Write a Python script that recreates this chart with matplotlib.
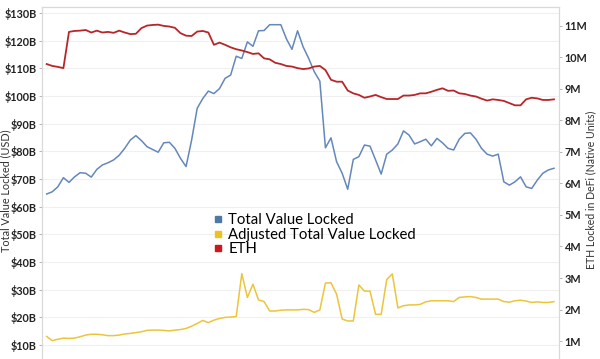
import numpy as np
import matplotlib
matplotlib.use("Agg")
import matplotlib.pyplot as plt
from matplotlib.lines import Line2D
from matplotlib.ticker import FuncFormatter, FixedLocator

# Weekly readings (oldest to newest)
tvl = [64.6, 65.4, 67.2, 70.5, 68.8, 70.8, 72.3, 72.1, 70.7, 73.5,
       75.1, 75.9, 76.9, 78.6, 81.1, 84.1, 85.7, 83.9, 81.7, 80.7,
       79.7, 83.1, 83.3, 81.1, 77.5, 74.5, 84.1, 95.6, 99.1, 101.8,
       100.9, 102.7, 106.4, 107.6, 114.4, 113.6, 119.6, 118.0, 123.6, 123.7,
       125.8, 125.8, 125.8, 120.7, 116.9, 123.6, 117.8, 113.6, 108.8, 105.4,
       81.3, 84.9, 76.3, 72.1, 66.3, 77.1, 78.1, 82.3, 81.9, 76.9,
       71.8, 79.0, 80.5, 82.7, 87.4, 85.9, 82.7, 83.5, 84.4, 82.0,
       84.7, 83.1, 81.1, 80.5, 84.4, 86.5, 86.7, 84.4, 81.1, 79.0,
       78.3, 79.0, 69.0, 67.8, 69.0, 70.8, 67.2, 66.6, 69.6, 72.1,
       73.3, 73.9]

adj_tvl = [13.1, 11.6, 12.1, 12.5, 12.4, 12.5, 13.0, 13.6, 13.9, 13.9,
           13.7, 13.4, 13.4, 13.6, 14.0, 14.2, 14.5, 14.8, 15.3, 15.4,
           15.4, 15.3, 15.1, 15.4, 15.6, 16.0, 16.8, 17.8, 18.9, 18.1,
           19.0, 19.6, 20.0, 20.1, 20.3, 35.8, 27.2, 32.0, 26.3, 25.7,
           22.3, 22.3, 22.6, 22.7, 22.7, 22.7, 22.9, 22.8, 21.8, 22.7,
           32.4, 32.5, 28.4, 19.4, 18.7, 18.7, 31.7, 29.5, 29.5, 21.1,
           21.1, 33.7, 35.7, 23.4, 24.2, 24.5, 24.5, 24.7, 25.6, 26.0,
           26.0, 26.0, 26.0, 25.7, 27.2, 27.4, 27.5, 27.2, 26.6, 26.6,
           26.6, 26.6, 25.7, 25.5, 26.0, 26.2, 25.9, 25.4, 25.6, 25.4,
           25.4, 25.7]

eth = [9.79, 9.73, 9.70, 9.66, 10.81, 10.84, 10.85, 10.87, 10.79, 10.85,
       10.79, 10.81, 10.78, 10.85, 10.79, 10.74, 10.75, 10.93, 11.01, 11.03,
       11.04, 11.00, 10.98, 10.94, 10.77, 10.69, 10.68, 10.82, 10.84, 10.79,
       10.40, 10.47, 10.40, 10.32, 10.26, 10.22, 10.17, 10.11, 10.13, 9.97,
       9.94, 9.83, 9.79, 9.73, 9.71, 9.66, 9.63, 9.65, 9.71, 9.73,
       9.60, 9.29, 9.23, 9.23, 8.95, 8.86, 8.81, 8.72, 8.76, 8.81,
       8.74, 8.68, 8.68, 8.68, 8.79, 8.79, 8.81, 8.86, 8.86, 8.91,
       8.97, 9.02, 8.94, 8.95, 8.86, 8.84, 8.79, 8.76, 8.69, 8.63,
       8.67, 8.65, 8.62, 8.55, 8.48, 8.48, 8.67, 8.72, 8.70, 8.65,
       8.65, 8.67]

left_ticks = [10, 20, 30, 40, 50, 60, 70, 80, 90, 100, 110, 120, 130]
right_ticks = [1, 2, 3, 4, 5, 6, 7, 8, 9, 10, 11]
series_names = ["Total Value Locked", "Adjusted Total Value Locked", "ETH"]

c_tvl = "#6488bb"
c_adj = "#ebc53a"
c_eth = "#b8262a"
legend_colors = ["#4e79a7", "#eec21c", "#d0161c"]
grey = "#d9d9d9"
tick_font = dict(family="Lato", weight="bold", size=7.8)

x = np.arange(len(tvl))

fig = plt.figure(figsize=(6, 3.59), dpi=100)
ax = fig.add_axes([42 / 600, 0, 517 / 600, 352 / 359])
ax2 = ax.twinx()

ax.plot(x, adj_tvl, color=c_adj, lw=1.1)
ax.plot(x, tvl, color=c_tvl, lw=1.1)
ax2.plot(x, eth, color=c_eth, lw=1.3)

ax.set_xlim(-0.84, len(tvl) - 1 + 0.9)
ax.set_ylim(4.95, 132.2)
ax2.set_ylim(0.43, 11.6)

ax.yaxis.set_major_locator(FixedLocator(left_ticks))
ax.yaxis.set_major_formatter(FuncFormatter(lambda v, p: f"${v:.0f}B"))
ax2.yaxis.set_major_locator(FixedLocator(right_ticks))
ax2.yaxis.set_major_formatter(FuncFormatter(lambda v, p: f"{v:.0f}M"))

ax.set_xticks([])
ax.grid(axis="y", color="#f0f0f0", lw=0.8)
ax.set_axisbelow(True)

for a in (ax, ax2):
    a.spines["bottom"].set_visible(False)
    for s in ("left", "right", "top"):
        a.spines[s].set_color(grey)
        a.spines[s].set_linewidth(0.8)
    a.tick_params(axis="y", length=2.5, width=0.6, color="#aaaaaa",
                  labelcolor="#222222", pad=1.5)
    for lab in a.get_yticklabels():
        lab.set_fontproperties(tick_font)

fig.text(0.009, 0.47, "Total Value Locked (USD)", rotation=90,
         ha="center", va="center", fontsize=7.8, color="#333333",
         family="Lato")
fig.text(0.985, 0.47, "ETH Locked in DeFi (Native Units)", rotation=90,
         ha="center", va="center", fontsize=7.6, color="#333333",
         family="Lato")

handles = [Line2D([], [], marker="s", ls="none", color=c, markersize=5)
           for c in legend_colors]
fig.legend(handles, series_names, loc="upper left",
           bbox_to_anchor=(203 / 600, 1 - 206 / 359), frameon=False,
           prop=dict(family="Lato", size=10.7), labelspacing=0.02,
           handletextpad=0.2, handlelength=1.0, borderpad=0)

fig.savefig("out.png", dpi=100)
